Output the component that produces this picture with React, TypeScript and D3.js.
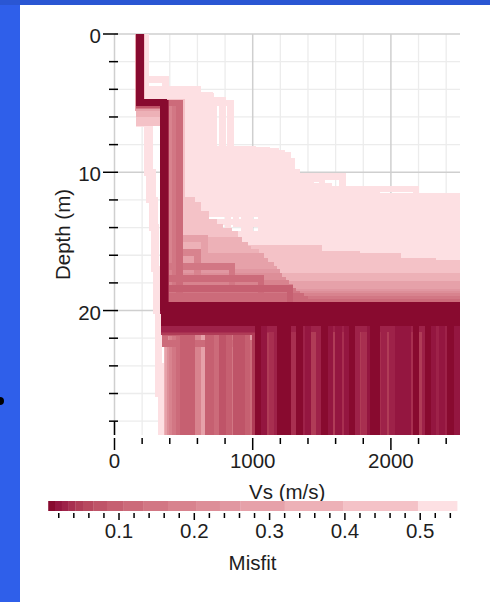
import React from "react";
import * as d3 from "d3";

// ---------- axis ticks ----------
const xMajorTicks = [0, 1000, 2000];
const xMinorTicks = [200, 400, 600, 800, 1200, 1400, 1600, 1800, 2200, 2400];
const yMajorTicks = [0, 10, 20];
const yMinorTicks = [2, 4, 6, 8, 12, 14, 16, 18, 22, 24, 26, 28];
const misfitMajorTicks = [0.1, 0.2, 0.3, 0.4, 0.5];
const misfitMinorTicks = [0.02, 0.04, 0.06, 0.08, 0.12, 0.14, 0.16, 0.18, 0.22, 0.24, 0.26, 0.28, 0.32, 0.34, 0.36, 0.38, 0.42, 0.44, 0.46, 0.48, 0.52, 0.54];

// ---------- colour bar levels ----------
const misfitBreaks = [0.006, 0.015, 0.024, 0.033, 0.042, 0.053, 0.066, 0.084, 0.106, 0.132, 0.165, 0.203, 0.234, 0.261, 0.32, 0.398, 0.497, 0.549];
const misfitColors = ["#880a2f", "#941640", "#9e2249", "#a82f50", "#b03c57", "#b8485f", "#bf5468", "#c66071", "#cc6b7a", "#d27784", "#d8838e", "#dd8e98", "#e197a1", "#e6a1a9", "#edb1b7", "#f4c2c7", "#fde0e3"];

// ---------- profiles: [misfit, Vs1, bottom1, Vs2, bottom2, ..., VsHalfspace] ----------
const lightProfiles = [
  [0.545, 215, 3.3, 370, 9.5, 1065, 14.1, 2800],
  [0.543, 220, 4.2, 480, 8.6, 1210, 13.3, 2800],
  [0.541, 225, 4.5, 690, 8.3, 1000, 10.3, 1650, 12.5, 2800],
  [0.539, 210, 4.0, 600, 11.2, 2180, 16.1, 2800],
  [0.537, 205, 4.6, 550, 11.7, 2800],
  [0.535, 200, 4.4, 450, 12.1, 2800],
  [0.533, 210, 4.5, 520, 8.5, 760, 12.9, 2800],
  [0.531, 215, 4.7, 640, 8.5, 820, 14.5, 2800],
  [0.530, 180, 6.5, 240, 10.0, 275, 14.0, 300, 20.0, 320, 26.0, 340],
  [0.529, 205, 4.5, 580, 8.6, 880, 13.7, 2800],
  [0.527, 200, 4.8, 500, 9.0, 940, 15.3, 2800],
  [0.525, 210, 4.6, 660, 8.7, 1130, 12.1, 1900, 14.9, 2800],
  [0.523, 195, 5.0, 420, 9.2, 1280, 11.8, 1450, 15.7, 2800],
  [0.521, 205, 4.4, 460, 10.0, 1320, 13.0, 2050, 16.5, 2800],
  [0.520, 185, 6.0, 255, 12.0, 290, 17.0, 315, 24.0, 335],
  [0.519, 200, 4.9, 400, 10.5, 1500, 14.0, 2350, 17.0, 2800],
  [0.518, 205, 4.6, 505, 12.8, 2800],
  [0.517, 210, 4.6, 560, 11.0, 1550, 15.0, 2800],
  [0.516, 210, 4.5, 650, 13.0, 1800, 16.3, 2800],
  [0.515, 200, 5.0, 430, 12.5, 1760, 16.0, 2800],
  [0.514, 205, 4.4, 690, 12.0, 2800],
  [0.513, 205, 4.7, 620, 9.8, 1100, 13.5, 2450, 17.2, 2800],
  [0.512, 200, 4.7, 610, 8.4, 980, 14.8, 2800],
  [0.511, 195, 4.9, 470, 11.3, 1600, 12.8, 2800],
  [0.510, 205, 4.8, 540, 8.4, 1100, 13.2, 2800],
  [0.509, 200, 5.1, 720, 10.7, 1420, 14.6, 2800],
  [0.508, 200, 4.6, 590, 8.5, 1170, 14.3, 2800],
  [0.507, 200, 4.8, 780, 12.2, 2800],
  [0.506, 205, 4.5, 700, 9.6, 1030, 12.6, 2800],
  [0.505, 205, 5.0, 840, 11.5, 1900, 16.8, 2800],
  [0.504, 200, 5.0, 600, 8.8, 1250, 15.1, 2800],
  [0.503, 195, 5.2, 520, 13.6, 2800],
  [0.502, 200, 4.9, 680, 11.0, 1320, 13.8, 2300, 16.2, 2800],
];

const mediumProfiles = [
  [0.492, 195, 4.9, 490, 12.0, 560, 15.5, 1480, 17.1, 2800],
  [0.485, 190, 5.0, 475, 12.4, 600, 15.9, 1750, 17.3, 2800],
  [0.474, 195, 4.9, 468, 12.7, 585, 16.1, 2050, 17.5, 2800],
  [0.463, 185, 5.6, 455, 13.0, 660, 16.4, 2300, 17.6, 2800],
  [0.452, 190, 5.0, 450, 13.4, 640, 16.7, 2800],
  [0.441, 185, 6.0, 440, 13.6, 720, 16.6, 2800],
  [0.428, 180, 5.3, 432, 14.0, 760, 16.9, 2800],
  [0.415, 185, 5.0, 425, 14.3, 830, 17.1, 2800],
  [0.404, 180, 6.4, 418, 14.5, 870, 17.3, 2800],
  [0.385, 185, 5.1, 410, 14.9, 900, 17.5, 2800],
  [0.366, 180, 5.8, 404, 15.3, 940, 17.7, 2800],
  [0.352, 185, 5.0, 398, 15.6, 965, 17.8, 2800],
  [0.338, 180, 5.2, 395, 15.8, 1020, 18.0, 2800],
  [0.33, 185, 5.4, 380],
  [0.316, 185, 5.0, 390, 16.1, 1060, 18.1, 2800],
  [0.298, 180, 5.1, 388, 16.4, 1090, 18.3, 2800],
  [0.282, 182, 5.0, 384, 16.7, 1130, 18.4, 2800],
  [0.28, 180, 5.0, 360, 14.8, 650],
  [0.27, 175, 5.3, 390],
  [0.264, 180, 5.2, 382, 17.0, 1150, 18.5, 2800],
  [0.248, 183, 5.0, 380, 17.2, 1175, 18.7, 2800],
  [0.24, 180, 5.1, 380, 21.5, 1000],
  [0.228, 180, 5.0, 377, 17.5, 1190, 18.8, 2800],
  [0.212, 181, 5.1, 375, 17.8, 1220, 18.9, 2800],
  [0.21, 180, 5.2, 400],
  [0.19, 180, 5.0, 370, 15.8, 600],
  [0.188, 180, 5.0, 372, 18.0, 1240, 19.0, 2800],
  [0.172, 182, 5.0, 370, 18.3, 1265, 19.1, 2800],
  [0.17, 180, 5.0, 420],
  [0.16, 180, 5.0, 360, 16.8, 850],
  [0.154, 180, 5.0, 368, 18.6, 1290, 19.2, 2800],
  [0.15, 180, 5.2, 365, 19.0, 1300],
  [0.14, 180, 5.0, 440],
  [0.138, 181, 5.0, 367, 18.8, 1320, 19.3, 2800],
  [0.13, 180, 5.0, 365, 17.7, 1060],
  [0.122, 180, 5.0, 366, 19.0, 1350, 19.4, 2800],
  [0.12, 180, 5.0, 365, 22.4, 1000],
  [0.11, 180, 5.0, 470],
  [0.109, 182, 5.0, 365, 19.2, 1380, 19.5, 2800],
  [0.108, 180, 5.0, 365, 20.8, 740],
];

const darkProfiles = [
  [0.105, 180, 5.0, 365, 18.4, 1270],
  [0.104, 184, 5.0, 362, 21.3, 830],
  [0.100, 182, 5.0, 370, 20.5, 560],
  [0.098, 180, 5.0, 366, 21.4, 495],
  [0.095, 182, 5.1, 360, 21.0, 700],
  [0.093, 182, 5.0, 362, 21.2, 675],
  [0.090, 180, 5.0, 365, 21.6, 520],
  [0.085, 183, 5.0, 360, 20.0, 960],
  [0.080, 183, 5.0, 360, 20.3, 780],
  [0.070, 185, 5.0, 364, 20.8, 880],
  [0.068, 180, 5.1, 362, 20.6, 920],
  [0.050, 183, 5.0, 360, 21.5, 1590],
  [0.049, 180, 5.0, 365, 20.7, 2215],
  [0.048, 182, 5.0, 360, 21.0, 1225],
  [0.047, 190, 5.0, 358, 20.9, 1100],
  [0.046, 182, 5.0, 360, 21.3, 1980],
  [0.045, 184, 5.0, 366, 21.0, 1440],
  [0.044, 180, 5.0, 365, 20.8, 1020],
  [0.043, 181, 5.0, 360, 21.1, 1780],
  [0.042, 184, 5.0, 366, 21.0, 3000],
  [0.041, 190, 5.0, 358, 20.9, 2340],
  [0.040, 190, 5.0, 360, 21.2, 1650],
  [0.039, 190, 5.0, 361, 20.5, 1300],
  [0.038, 180, 5.0, 362, 20.4, 1275],
  [0.037, 180, 5.0, 362, 20.9, 1925],
  [0.036, 184, 5.0, 360, 21.4, 1140],
  [0.035, 188, 5.0, 360, 19.7, 2150],
  [0.034, 184, 5.0, 358, 20.3, 1810],
  [0.033, 192, 5.0, 368, 21.2, 2700],
  [0.032, 186, 5.0, 362, 20.2, 1480],
  [0.031, 185, 5.0, 360, 20.3, 1370],
  [0.030, 185, 5.0, 360, 20.6, 2330],
  [0.029, 188, 5.0, 361, 20.7, 2010],
  [0.028, 188, 5.0, 360, 20.2, 1750],
  [0.027, 185, 5.0, 361, 19.9, 1180],
  [0.026, 185, 5.0, 364, 20.4, 2250],
  [0.0255, 185, 5.0, 360, 21.3, 2850],
  [0.025, 186, 5.0, 360, 20.4, 1950],
  [0.024, 188, 5.0, 360, 20.1, 2400],
  [0.0235, 186, 5.0, 361, 20.5, 2125],
  [0.023, 186, 5.0, 361, 20.5, 2300],
  [0.022, 182, 5.0, 358, 20.0, 1400],
  [0.0215, 185, 5.0, 362, 20.1, 2480],
  [0.021, 185, 5.0, 360, 20.2, 2075],
  [0.020, 185, 5.0, 360, 20.3, 1620],
  [0.019, 186, 5.0, 361, 20.6, 1560],
  [0.0185, 185, 5.0, 360, 20.2, 2455],
  [0.018, 185, 5.0, 360, 20.0, 1080],
  [0.0175, 185, 5.0, 360, 20.4, 2370],
  [0.017, 185, 5.0, 356, 19.6, 2050],
  [0.0165, 187, 5.0, 362, 19.8, 2900],
  [0.016, 180, 5.0, 365, 20.6, 1685],
  [0.0155, 185, 5.0, 360, 20.5, 2100],
  [0.015, 185, 5.0, 356, 20.0, 1850],
  [0.0145, 185, 5.0, 360, 20.3, 1875],
  [0.014, 186, 5.0, 361, 20.2, 1250],
  [0.0135, 185, 5.0, 362, 19.6, 3100],
  [0.013, 187, 5.0, 360, 20.1, 2430],
  [0.0128, 185, 5.0, 360, 20.4, 1040],
  [0.012, 186, 5.0, 361, 20.0, 2270],
  [0.0115, 186, 5.0, 361, 20.0, 1340],
  [0.011, 182, 5.0, 362, 19.8, 1520],
  [0.0105, 185, 5.0, 360, 19.9, 2180],
  [0.010, 186, 5.0, 361, 20.3, 1720],
  [0.0095, 186, 5.0, 361, 20.9, 2650],
  [0.009, 180, 4.9, 355, 19.8, 1200],
  [0.0085, 185, 5.0, 360, 20.6, 2750],
  [0.008, 186, 5.0, 361, 20.1, 1900],
  [0.0075, 186, 5.0, 361, 19.7, 2800],
  [0.007, 186, 5.0, 361, 20.2, 2600],
];

const W = 490;
const H = 602;
const PL = 114.5, PR = 460, PT = 34, PB = 435;
const FONT = "'Liberation Sans', Arial, Helvetica, sans-serif";
const TXT = "#1e1e1e";

export default function App() {
  const x = d3.scaleLinear().domain([0, 2500]).range([PL, PR]);
  const y = d3.scaleLinear().domain([0, 29]).range([PT, PB]);
  const cb = d3.scaleLinear().domain([0, 0.5]).range([43.7, 420.2]);
  const color = d3
    .scaleThreshold<number, string>()
    .domain(misfitBreaks.slice(1, -1))
    .range(misfitColors);
  const line = d3
    .line<[number, number]>()
    .x((d) => x(d[0]))
    .y((d) => y(d[1]));

  const all = [...lightProfiles, ...mediumProfiles, ...darkProfiles].slice().sort((a, b) => b[0] - a[0]);
  const toPoints = (p: number[]) => {
    const pts: [number, number][] = [];
    let top = 0;
    for (let i = 1; i < p.length; i += 2) {
      const vs = p[i];
      const bottom = i + 1 < p.length ? p[i + 1] : 31;
      pts.push([vs, top], [vs, bottom]);
      top = bottom;
    }
    return pts;
  };

  return (
    <svg width={W} height={H} style={{ position: "absolute", left: 0, top: 0 }} fontFamily={FONT}>
      <defs>
        <clipPath id="plotclip">
          <rect x={PL} y={PT} width={PR - PL} height={PB - PT} />
        </clipPath>
      </defs>
      {/* frame */}
      <rect x={0} y={0} width={W} height={H} fill="#2f5fea" />
      <rect x={0} y={0} width={W} height={5} fill="#2a56d3" />
      <rect x={20} y={5} width={W - 20} height={H - 5} fill="#ffffff" />
      <circle cx={0} cy={401} r={4} fill="#000" />

      {/* grid */}
      {xMinorTicks.map((t) => (
        <line key={"gx" + t} x1={x(t)} x2={x(t)} y1={PT} y2={PB} stroke="#ececec" strokeWidth={1.3} />
      ))}
      {yMinorTicks.map((t) => (
        <line key={"gy" + t} x1={PL} x2={PR} y1={y(t)} y2={y(t)} stroke="#ececec" strokeWidth={1.3} />
      ))}
      {xMajorTicks.map((t) => (
        <line key={"gX" + t} x1={x(t)} x2={x(t)} y1={PT} y2={PB} stroke="#cfcfcf" strokeWidth={1.5} />
      ))}
      {yMajorTicks.map((t) => (
        <line key={"gY" + t} x1={PL} x2={PR} y1={y(t)} y2={y(t)} stroke="#cfcfcf" strokeWidth={1.5} />
      ))}

      {/* profiles */}
      <g clipPath="url(#plotclip)" shapeRendering="crispEdges">
        {all.map((p, i) => (
          <path
            key={"p" + i}
            d={line(toPoints(p)) || ""}
            fill="none"
            stroke={color(p[0])}
            strokeWidth={6.5}
            strokeLinejoin="miter"
          />
        ))}
      </g>

      {/* y axis */}
      {yMajorTicks.map((t) => (
        <g key={"yt" + t}>
          <line x1={103} x2={118} y1={y(t)} y2={y(t)} stroke="#000" strokeWidth={1.5} />
          <text x={101} y={y(t) + 9} textAnchor="end" fontSize={20.5} fill={TXT}>
            {t}
          </text>
        </g>
      ))}
      {yMinorTicks.map((t) => (
        <line key={"ym" + t} x1={109} x2={118} y1={y(t)} y2={y(t)} stroke="#000" strokeWidth={1.5} />
      ))}
      <line x1={x(0)} x2={x(0)} y1={y(28)} y2={PB} stroke="#000" strokeWidth={1.5} />
      <text transform={`translate(70,${(PT + PB) / 2}) rotate(-90)`} textAnchor="middle" fontSize={20.5} fill={TXT}>
        Depth (m)
      </text>

      {/* x axis */}
      {xMajorTicks.map((t) => (
        <g key={"xt" + t}>
          <line x1={x(t)} x2={x(t)} y1={438} y2={450} stroke="#000" strokeWidth={1.5} />
          <text x={x(t)} y={468} textAnchor="middle" fontSize={20.5} fill={TXT}>
            {t}
          </text>
        </g>
      ))}
      {xMinorTicks.map((t) => (
        <line key={"xm" + t} x1={x(t)} x2={x(t)} y1={438} y2={444} stroke="#000" strokeWidth={1.5} />
      ))}
      <text x={(PL + PR) / 2} y={499} textAnchor="middle" fontSize={20.5} fill={TXT}>
        Vs (m/s)
      </text>

      {/* colour bar */}
      {misfitColors.map((c, i) => (
        <rect
          key={"cb" + i}
          x={cb(misfitBreaks[i])}
          y={501}
          width={cb(misfitBreaks[i + 1]) - cb(misfitBreaks[i]) + 0.3}
          height={10}
          fill={c}
        />
      ))}
      {misfitMinorTicks.map((t) => (
        <line key={"cm" + t} x1={cb(t)} x2={cb(t)} y1={513} y2={518} stroke="#000" strokeWidth={1.5} />
      ))}
      {misfitMajorTicks.map((t) => (
        <g key={"cM" + t}>
          <line x1={cb(t)} x2={cb(t)} y1={513} y2={520} stroke="#000" strokeWidth={1.5} />
          <text x={cb(t)} y={538} textAnchor="middle" fontSize={20.5} fill={TXT}>
            {t.toFixed(1)}
          </text>
        </g>
      ))}
      <text x={252.5} y={570} textAnchor="middle" fontSize={20.5} fill={TXT}>
        Misfit
      </text>
    </svg>
  );
}
